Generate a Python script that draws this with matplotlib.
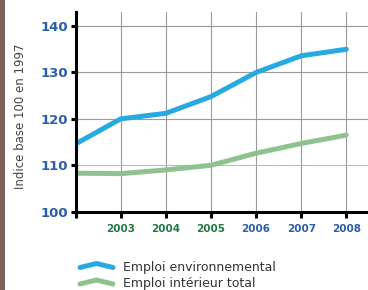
import matplotlib.pyplot as plt
import matplotlib.transforms as mtransforms
from matplotlib.lines import Line2D
from matplotlib.patches import Rectangle

# données (indice base 100 en 1997)
annees = [2002, 2003, 2004, 2005, 2006, 2007, 2008]
emploi_env = [114.6, 120.0, 121.2, 124.8, 130.0, 133.6, 135.0]
emploi_total = [108.3, 108.2, 109.0, 110.0, 112.6, 114.7, 116.5]
yticks = [100, 110, 120, 130, 140]
xlabels = ["", "2003", "2004", "2005", "2006", "2007", "2008"]
xlabel_colors = ["#1f7a45", "#1f7a45", "#1f7a45", "#1f7a45", "#2b5ea8", "#2b5ea8", "#2b5ea8"]

bleu = "#27aae1"
vert = "#8fc191"
bleu_texte = "#2b5ea8"

fig = plt.figure(figsize=(3.68, 2.90), dpi=100)
ax = fig.add_axes([75.5 / 368, 78.3 / 290, 1 - 75.5 / 368, 200 / 290])

# bande marron à gauche
fig.add_artist(Rectangle((0, 0), 4.5 / 368, 1, transform=fig.transFigure,
                         color="#7b6259", lw=0))

ax.plot(annees, emploi_env, color=bleu, lw=3.6, solid_capstyle="round",
        solid_joinstyle="round", zorder=3)
ax.plot(annees, emploi_total, color=vert, lw=3.6, solid_capstyle="round",
        solid_joinstyle="round", zorder=3)

ax.set_xlim(2002, 2008.48)
ax.set_ylim(100, 143.1)

ax.set_xticks(annees)
ax.set_xticklabels(xlabels, fontsize=7.5, fontweight="bold")
for lab, c in zip(ax.get_xticklabels(), xlabel_colors):
    lab.set_color(c)
ax.set_yticks(yticks)
ax.set_yticklabels([str(v) for v in yticks], fontsize=9.5, fontweight="bold",
                   color=bleu_texte)

# les étiquettes de l'axe y sont un peu au-dessus des graduations
for v, lab in zip(yticks, ax.get_yticklabels()):
    dy = 8 / 72 if v == 110 else 4 / 72
    lab.set_transform(lab.get_transform() +
                      mtransforms.ScaledTranslation(0, dy, fig.dpi_scale_trans))

ax.tick_params(axis="both", direction="out", width=2.2, color="black")
ax.tick_params(axis="y", length=3.5, pad=2)
ax.tick_params(axis="x", length=4.5, pad=4)

for s in ["top", "right"]:
    ax.spines[s].set_visible(False)
for s in ["left", "bottom"]:
    ax.spines[s].set_linewidth(2.2)
    ax.spines[s].set_color("black")
    ax.spines[s].set_zorder(4)

ax.grid(True, color="#999999", lw=0.8)
ax.set_axisbelow(True)
ax.get_ygridlines()[1].set_color("#bbbbbb")

ax.set_ylabel("Indice base 100 en 1997", fontsize=8.5, color="#444444", va="center")
ax.yaxis.set_label_coords(20.5 / 368, (290 - 116) / 290, transform=fig.transFigure)

# légende avec poignées en arc
legende = [("Emploi environnemental", bleu, 265.5), ("Emploi intérieur total", vert, 282)]
for texte, c, yc in legende:
    xs = [80 / 368, 96.5 / 368, 113 / 368]
    ys = [(290 - yc - 2) / 290, (290 - yc + 2) / 290, (290 - yc - 2) / 290]
    fig.add_artist(Line2D(xs, ys, transform=fig.transFigure, color=c, lw=3.6,
                          solid_capstyle="round", solid_joinstyle="round"))
    fig.text(123 / 368, (290 - yc - 1.5) / 290, texte, fontsize=9, color="#333333",
             va="center", ha="left")

fig.savefig("out.png", dpi=100)
